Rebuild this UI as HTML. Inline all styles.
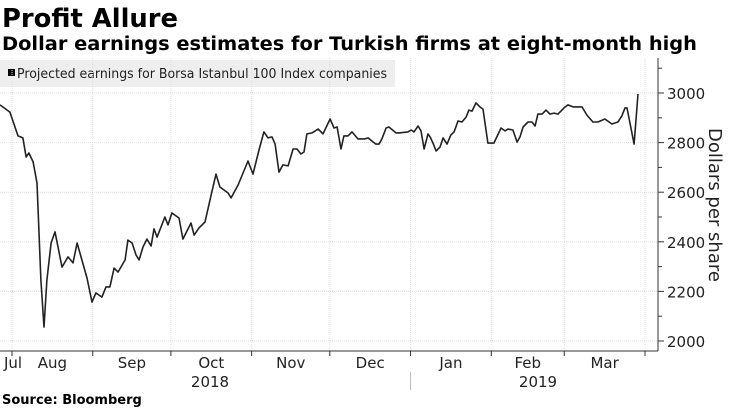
<!DOCTYPE html>
<html><head><meta charset="utf-8"><style>
html,body{margin:0;padding:0;background:#fff;}
svg{display:block;font-family:"DejaVu Sans","Liberation Sans",sans-serif;}
</style></head><body>
<svg id="chart" width="730" height="414" viewBox="0 0 730 414">
<text x="2" y="27" font-size="26" font-weight="bold" textLength="176" lengthAdjust="spacingAndGlyphs">Profit Allure</text>
<text x="2" y="50" font-size="18.5" font-weight="bold" textLength="695" lengthAdjust="spacingAndGlyphs">Dollar earnings estimates for Turkish firms at eight-month high</text>
<rect x="0" y="60" width="395" height="27" fill="#eeeeee"/>
<rect x="8" y="69" width="7" height="7" fill="#000"/>
<text x="17" y="78" font-size="13" fill="#222" textLength="370" lengthAdjust="spacingAndGlyphs">Projected earnings for Borsa Istanbul 100 Index companies</text>
<g id="grid"></g>
<g id="axes"></g>
<path id="line" fill="none" stroke="#222" stroke-width="1.6" stroke-linejoin="round"/>
<text transform="translate(709,205) rotate(90)" font-size="18" text-anchor="middle" fill="#222">Dollars per share</text>
<text x="2" y="404" font-size="13" font-weight="bold">Source: Bloomberg</text>
</svg>
<script>
const days=[-4.6,-0.8,2.3,4.2,5.4,6.5,8.1,9.6,11.1,12.3,13.4,15,16.5,19.2,21.5,23.4,25,28.8,30.7,32.2,34.5,36.1,37.6,39.2,40.7,43.4,44.5,46.1,47.6,48.8,50.3,51.8,53.4,54.5,55.7,58.7,59.9,61.4,64.1,65.6,68.7,69.9,71.8,74.1,76,78.3,79.8,82.9,84.1,86.8,90.6,92.5,94.8,96.7,98.3,99.8,101,102.5,104,106,107.9,109.4,110.9,112.1,113.2,115.2,117.5,119.4,122.1,123.6,124.8,126.3,127.4,129,130.5,132.8,135.5,136.7,138.2,139.7,140.9,142,143.6,144.7,147.4,148.6,152,153.2,154.3,155.9,157,158.2,159.7,160.5,161.6,162.8,164.3,165.5,167,168.5,169.7,171.2,172.7,174.3,175.4,176.6,178.1,179.6,180.8,182.7,185,187.7,189.3,190.4,192.3,193.9,195,196.2,198.1,199.6,200.8,201.9,203.5,205,206.5,208.1,209.6,211.9,213.4,215.4,216.9,218.8,220.7,223,224.9,227.6,230.3,232.6,234.1,235.3,236.1,238.8,240.3];
const values=[2952,2923,2827,2819,2742,2758,2722,2637,2246,2056,2246,2395,2440,2298,2339,2315,2395,2254,2157,2194,2177,2218,2218,2294,2278,2327,2407,2395,2347,2327,2379,2411,2383,2452,2419,2500,2468,2516,2496,2411,2476,2427,2456,2480,2569,2673,2621,2597,2577,2629,2726,2673,2770,2843,2819,2823,2794,2681,2710,2706,2774,2774,2754,2762,2835,2839,2855,2835,2895,2859,2863,2774,2827,2827,2843,2815,2815,2819,2806,2794,2794,2815,2859,2863,2839,2839,2843,2851,2843,2867,2847,2774,2835,2823,2798,2766,2782,2819,2794,2831,2843,2887,2883,2903,2931,2927,2960,2944,2935,2798,2798,2859,2847,2855,2851,2802,2823,2863,2883,2883,2867,2915,2915,2931,2915,2919,2915,2940,2952,2944,2944,2944,2911,2883,2883,2895,2875,2883,2907,2940,2940,2794,2996,3024];
const yTicks=[2000,2200,2400,2600,2800,3000];
const monthLabels=["Jul","Aug","Sep","Oct","Nov","Dec","Jan","Feb","Mar"];
const monthStarts=[-31,0,31,61,92,122,153,184,212,243];
const yearLabels=["2018","2019"];
const NS="http://www.w3.org/2000/svg";
const X=d=>12+d*2.605;
const Y=v=>341-(v-2000)*0.248;
function mk(tag,attrs,parent,txt){const e=document.createElementNS(NS,tag);for(const k in attrs)e.setAttribute(k,attrs[k]);if(txt!==undefined)e.textContent=txt;parent.appendChild(e);return e;}
const grid=document.getElementById('grid'),axes=document.getElementById('axes');
const R=658,B=351;
yTicks.forEach(v=>{
 const g=mk('line',{x1:0,x2:R,y1:Y(v),y2:Y(v),stroke:'#ddd','stroke-dasharray':'1,1'},grid);
 
 
 const t=mk('text',{x:667,y:Y(v)+6,'font-size':15,fill:'#222'},axes,String(v));
 
 
});
for(let v=2000;v<=3100;v+=100){
 const tk=mk('line',{x1:R,x2:R+(v%200===0?6:4),y1:Y(v),y2:Y(v),stroke:'#333'},axes);
 
 
}
monthStarts.forEach((d,i)=>{
 if(i>0&&i<monthStarts.length){
  const g=mk('line',{x1:X(d),x2:X(d),y1:58,y2:B,stroke:'#ddd','stroke-dasharray':'1,1'},grid);
  
  
  const tk=mk('line',{x1:X(d),x2:X(d),y1:B,y2:B+5,stroke:'#333'},axes);
  
  
 }
});
monthLabels.forEach((m,i)=>{
 let cx=(X(monthStarts[i])+X(monthStarts[i+1]))/2;
 if(i===0)cx=13;
 const t=mk('text',{x:cx,y:368,'font-size':15,fill:'#222','text-anchor':'middle'},axes,m);
 
 
});
const yx=[(X(0)+X(153))/2+30,(X(153)+X(243))/2];
yearLabels.forEach((y,i)=>{
 const t=mk('text',{x:i===0?210:538,y:387,'font-size':15,fill:'#222','text-anchor':'middle'},axes,y);
 
 
});
const sep=mk('line',{x1:X(153),x2:X(153),y1:372,y2:390,stroke:'#bbb'},axes);


const ax=mk('line',{x1:0,x2:R,y1:B,y2:B,stroke:'#333'},axes);


const ay=mk('line',{x1:R,x2:R,y1:58,y2:B,stroke:'#333'},axes);


document.getElementById('line').setAttribute('d',days.map((d,i)=>(i?'L':'M')+X(d).toFixed(1)+','+Y(values[i]).toFixed(1)).join(''));
</script>
</body></html>
